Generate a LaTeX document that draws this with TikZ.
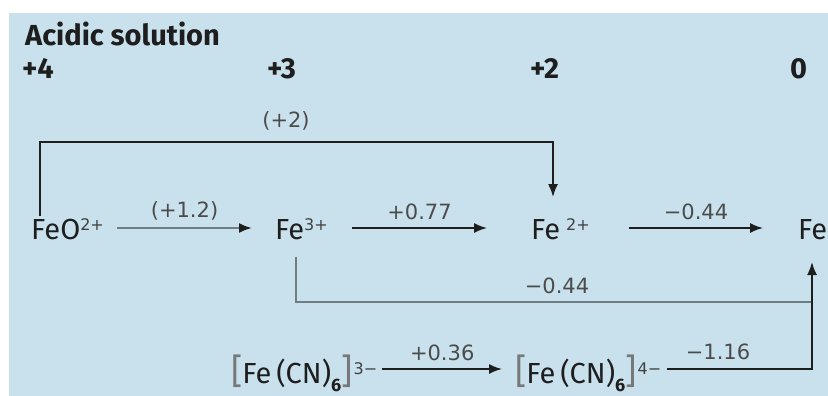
\documentclass[tikz,border=0pt]{standalone}
\usepackage{fontspec}
\setmainfont{Fira Sans}
\newfontfamily\labfont{DejaVu Sans}
\usetikzlibrary{arrows.meta,calc}
\definecolor{bgblue}{HTML}{C8E1EC}
\definecolor{ink}{HTML}{1E1E1E}
\definecolor{greyline}{HTML}{6F7E85}
\newcommand{\bigbr}[1]{{\fontsize{35}{35}\selectfont\color{ink!60}#1}}
\newcommand{\chsub}[1]{\raisebox{-8pt}{\fontsize{18}{18}\selectfont\bfseries #1}}
\newcommand{\chsup}[1]{\raisebox{9pt}{\fontsize{16}{16}\selectfont\labfont\color{ink!85}#1}}
\begin{document}
\begin{tikzpicture}[x=1pt,y=-1pt,
  oxlabel/.style={font=\fontsize{29}{29}\selectfont\bfseries, text=ink, inner sep=0pt},
  species/.style={font=\fontsize{29}{29}\selectfont, text=ink, inner sep=0pt, anchor=base west},
  potlabel/.style={font=\fontsize{21}{21}\selectfont\labfont, text=ink!80, inner sep=0pt},
  tip/.style={-{Latex[length=13pt,width=10pt,color=ink]}},
  blackarrow/.style={draw=ink, line width=1.7pt, tip},
  greyarrow/.style={draw=greyline, line width=2.2pt, tip},
  blackline/.style={draw=ink, line width=1.7pt},
  greyline/.style={draw=greyline, line width=2.2pt}]
\useasboundingbox (0,0) rectangle (828,396);
\fill[bgblue] (9,13) rectangle (828,396);
% headings
\node[oxlabel, anchor=base west] (acid) at (25,46) {Acidic solution};
\node[oxlabel, anchor=base west] (ox4) at (22,78) {+4};
\node[oxlabel, anchor=base west] (ox3) at (267,78) {+3};
\node[oxlabel, anchor=base west] (ox2) at (530,78) {+2};
\node[oxlabel, anchor=base west] (ox0) at (790,78) {0};
% species
\node[species] (feo) at (31,239) {FeO\chsup{2+}};
\node[species] (fe3) at (275,239) {Fe\chsup{3+}};
\node[species] (fe2) at (531,239) {Fe\hspace{6pt}\chsup{2+}};
\node[species] (fe) at (798,239) {Fe};
\node[species] (cn3) at (231,383) {\bigbr{[}Fe\,(CN)\chsub{6}\bigbr{]}\kern1pt\chsup{3−}};
\node[species] (cn4) at (515,383) {\bigbr{[}Fe\,(CN)\chsub{6}\bigbr{]}\kern1pt\chsup{4−}};
% route coordinates
\coordinate (row1) at (0,228);
\coordinate (row3) at (0,369);
\coordinate (topL) at (40,142);
\coordinate (topR) at (553,142);
\coordinate (fe2top) at (553,197);
\coordinate (bend3) at (296,302);
\coordinate (rightX) at (812,369);
\coordinate (fetip) at (812,262);
% top bracket
\draw[blackline, tip] (feo.north west -| topL) ++(0,-2) |- (topR) -- (fe2top);
\node[potlabel] (lab2) at (286,121) {(+2)};
% top row arrows
\draw[greyarrow] (feo.east |- row1) ++(13,0) -- ($(fe3.west |- row1)+(-23,0)$) node[potlabel, midway, above=7pt] (lab12) {(+1.2)};
\draw[blackarrow] (fe3.east |- row1) ++(24,0) -- ($(fe2.west |- row1)+(-44,0)$) node[potlabel, midway, above=7pt] (lab77) {+0.77};
\draw[blackarrow] (fe2.east |- row1) ++(39,0) -- ($(fe.west |- row1)+(-35,0)$) node[potlabel, midway, above=7pt] (lab44a) {−0.44};
% Fe3+ to Fe
\draw[greyline] (fe3.south -| bend3) ++(0,17) |- (rightX |- bend3);
\node[potlabel] (lab44b) at (557,286) {−0.44};
% bottom row
\draw[blackarrow] (cn3.east |- row3) ++(5,0) -- ($(cn4.west |- row3)+(-13,0)$) node[potlabel, midway, above=7pt] (lab36) {+0.36};
\draw[blackline, tip] (cn4.east |- row3) ++(6,0) -- (rightX) -- (fetip);
\node[potlabel] (lab116) at (718,352) {−1.16};
\end{tikzpicture}
\end{document}
